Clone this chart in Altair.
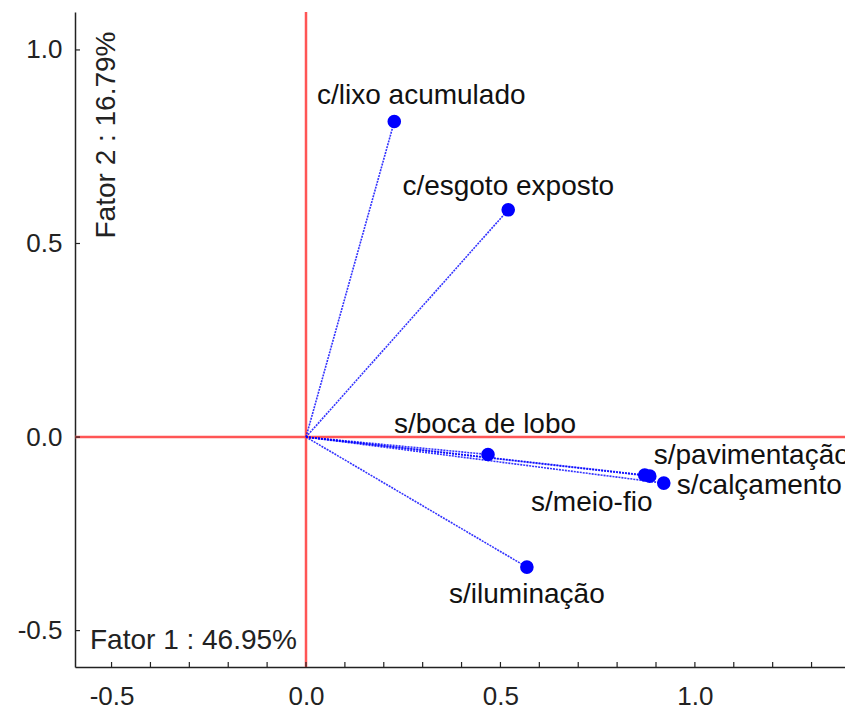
import altair as alt
import pandas as pd

# ---- data ----
names = ["c/lixo acumulado", "c/esgoto exposto", "s/boca de lobo",
         "s/pavimentação", "s/meio-fio", "s/calçamento", "s/iluminação"]
fator1 = [0.227, 0.520, 0.468, 0.871, 0.884, 0.920, 0.568]
fator2 = [0.815, 0.587, -0.045, -0.098, -0.101, -0.119, -0.336]
x_labels = [-0.5, 0.0, 0.5, 1.0]
y_labels = [-0.5, 0.0, 0.5, 1.0]
x_minor = [-0.5, -0.4, -0.3, -0.2, -0.1, 0.0, 0.1, 0.2, 0.3, 0.4, 0.5,
           0.6, 0.7, 0.8, 0.9, 1.0, 1.1, 1.2, 1.3]
title_x = "Fator 1 : 46.95%"
title_y = "Fator 2 : 16.79%"

# ---- styling ----
FONT = "Liberation Sans"
FS = 28
W, H = 770, 655
BLUE = "#0000ff"
RED = "#ff5555"
label_place = {
    "c/lixo acumulado": (27, -26, "center"),
    "c/esgoto exposto": (0, -23, "center"),
    "s/boca de lobo": (-3, -29, "center"),
    "s/pavimentação": (9, -19, "left"),
    "s/calçamento": (13, 3, "left"),
    "s/meio-fio": (-58, 27, "center"),
    "s/iluminação": (0, 28, "center"),
}

df = pd.DataFrame({"name": names, "f1": fator1, "f2": fator2})
df["x0"] = 0.0
df["y0"] = 0.0

xs = alt.Scale(domain=[-0.594, 1.386], nice=False, zero=False)
ys = alt.Scale(domain=[-0.594, 1.098], nice=False, zero=False)

minus_fix = "replace(format(datum.value, '.1f'), '\u2212', '-')"

base = alt.Chart(df)

axes = alt.Chart(pd.DataFrame({"v": [0.0]})).mark_point(opacity=0).encode(
    x=alt.X("v:Q", scale=xs, title=None,
            axis=alt.Axis(values=x_labels, labelExpr=minus_fix, ticks=False,
                          grid=False, domainColor="#222", domainWidth=1.5,
                          labelFont=FONT, labelFontSize=26, labelColor="#222",
                          labelPadding=16)),
    y=alt.Y("v:Q", scale=ys, title=None,
            axis=alt.Axis(values=y_labels, labelExpr=minus_fix, ticks=False,
                          grid=False, domainColor="#222", domainWidth=1.5,
                          labelFont=FONT, labelFontSize=26, labelColor="#222",
                          labelPadding=13)),
)

xticks = alt.Chart(pd.DataFrame({"t": x_minor})).mark_rule(
    color="#222", strokeWidth=1.2).encode(
    x=alt.X("t:Q", scale=xs), y=alt.value(H), y2=alt.value(H - 5))

yticks = alt.Chart(pd.DataFrame({"t": y_labels})).mark_rule(
    color="#222", strokeWidth=1.2).encode(
    y=alt.Y("t:Q", scale=ys), x=alt.value(0), x2=alt.value(5))

ref_v = alt.Chart(pd.DataFrame({"z": [0.0]})).mark_rule(
    color=RED, strokeWidth=2.5).encode(x=alt.X("z:Q", scale=xs))
ref_h = alt.Chart(pd.DataFrame({"z": [0.0]})).mark_rule(
    color=RED, strokeWidth=2.5).encode(y=alt.Y("z:Q", scale=ys))

vectors = base.mark_rule(color=BLUE, strokeWidth=1.6, strokeDash=[2, 1],
                         opacity=0.8).encode(
    x=alt.X("x0:Q", scale=xs), y=alt.Y("y0:Q", scale=ys),
    x2="f1:Q", y2="f2:Q")

points = base.mark_circle(color=BLUE, size=185, opacity=1).encode(
    x=alt.X("f1:Q", scale=xs), y=alt.Y("f2:Q", scale=ys))

labels = []
for nm, (dx, dy, al) in label_place.items():
    labels.append(
        base.transform_filter(alt.datum.name == nm).mark_text(
            font=FONT, fontSize=FS, color="#111", dx=dx, dy=dy, align=al,
            baseline="middle").encode(
            x=alt.X("f1:Q", scale=xs), y=alt.Y("f2:Q", scale=ys),
            text="name:N"))

tx = alt.Chart(pd.DataFrame({"t": [title_x]})).mark_text(
    font=FONT, fontSize=FS, color="#222", align="left", baseline="middle"
).encode(x=alt.value(15), y=alt.value(629), text="t:N")

ty = alt.Chart(pd.DataFrame({"t": [title_y]})).mark_text(
    font=FONT, fontSize=FS, color="#222", align="center", baseline="middle",
    angle=270).encode(x=alt.value(32), y=alt.value(123), text="t:N")

chart = alt.layer(ref_v, ref_h, axes, xticks, yticks, vectors, points,
                  *labels, tx, ty).properties(
    width=W, height=H,
    autosize=alt.AutoSizeParams(type="none"),
    padding={"left": 67, "top": 4, "right": 0, "bottom": 42},
).configure_view(stroke=None)

chart.save("out.html", embed_options={"renderer": "svg", "actions": False})
